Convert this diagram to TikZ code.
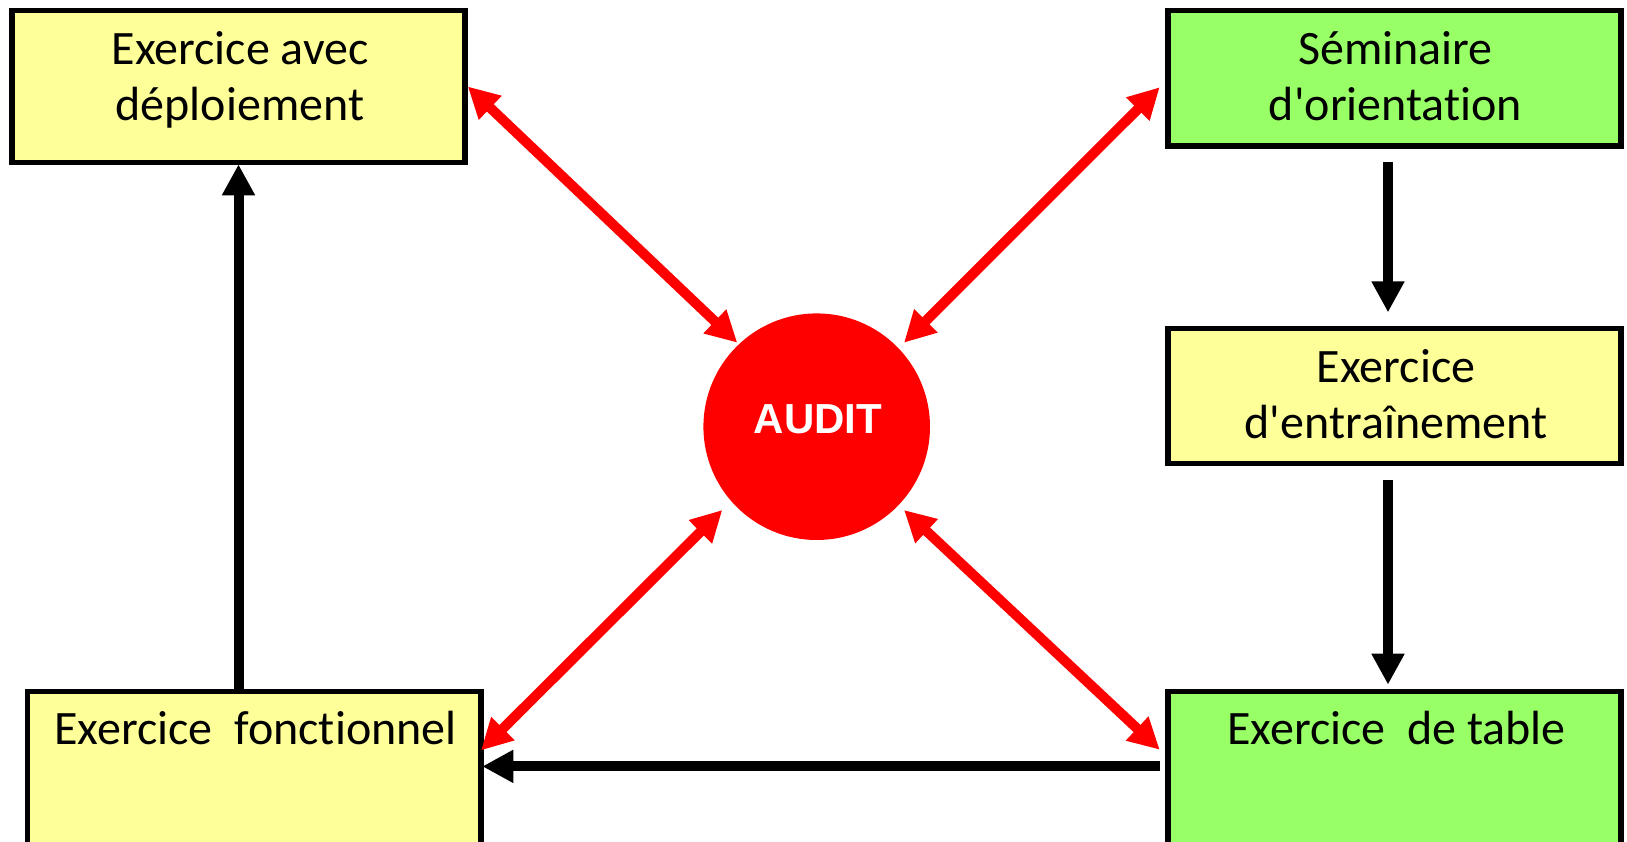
\documentclass[tikz,border=0pt]{standalone}
\usepackage{fontspec}
\setmainfont{Carlito}[Ligatures={TeXOff,CommonOff}]
\newfontfamily\auditfont{Liberation Sans}
\usetikzlibrary{arrows.meta,calc}
\definecolor{boxyellow}{HTML}{FFFF99}
\definecolor{boxgreen}{HTML}{99FF66}
\definecolor{auditred}{HTML}{FF0000}

\begin{document}
\begin{tikzpicture}[x=1pt,y=-1pt,
  stagebox/.style={draw=black, line width=5.6pt, rectangle, inner sep=0pt, minimum width=453pt},
  stagetext/.style={font=\fontsize{48}{56}\selectfont, align=center, anchor=base, inner sep=0pt},
  flow/.style={draw=black, line width=10pt, -{Triangle[length=31pt,width=31pt]}},
  link/.style={draw=auditred, line width=10pt,
    {Triangle[length=31pt,width=31pt]}-{Triangle[length=31pt,width=31pt]}},
]
\useasboundingbox (0,0) rectangle (1627,842);
\clip (0,0) rectangle (1627,842);

% stages (text anchored at the baseline of its last line)
\node[stagebox, fill=boxyellow, minimum height=152pt] (deploy) at (238.5,86.5) {};
\node[stagetext] (deployTxt) at (240,120.7) {Exercice avec\\déploiement};

\node[stagebox, fill=boxgreen, minimum height=135.5pt] (semi) at (1394.5,78.25) {};
\node[stagetext] (semiTxt) at (1395.5,120.7) {Séminaire\\d'orientation};

\node[stagebox, fill=boxyellow, minimum height=135pt] (train) at (1394.5,396) {};
\node[stagetext] (trainTxt) at (1396,438.3) {Exercice\\d'entraînement};

\node[stagebox, fill=boxyellow, minimum width=453.5pt, minimum height=208.5pt] (fonc) at (254.25,795.75) {};
\node[stagetext] (foncTxt) at (255.5,744) {Exercice\ \ fonctionnel};

\node[stagebox, fill=boxgreen, minimum height=208.5pt] (table) at (1394.5,795.75) {};
\node[stagetext] (tableTxt) at (1396.5,744) {Exercice\ \ de table};

% audit hub
\node[circle, fill=auditred, minimum size=226.6pt, inner sep=0pt] (audit) at (816.7,426.7) {};
\node[font=\auditfont\bfseries\fontsize{42}{50}\selectfont, text=white, anchor=base, inner sep=0pt]
  (auditTxt) at (818,433.3) {AUDIT};

% sequence of exercises
\draw[flow] ($(semi.south)+(-6.5,13)$) -- ($(train.north)+(-6.5,-13.3)$);
\draw[flow] ($(train.south)+(-6.5,14)$) -- ($(table.north)+(-6.5,-4)$);
\draw[flow] ($(table.north west)+(-4.8,77.7)$) -- ($(fonc.north east)+(-1.5,77.7)$);
\draw[flow] (deploy.south |- fonc.north) -- ($(deploy.south)+(0,-1)$);

% audit links
\draw[link] (deploy.east) -- ($(audit.center)+(-79.4,-84)$);
\draw[link] ($(semi.west)+(-5.5,9)$) -- ($(audit.center)+(87.3,-84)$);
\draw[link] ($(audit.center)+(-94.4,83.3)$) -- ($(fonc.north east)+(-2.8,61.7)$);
\draw[link] ($(audit.center)+(87.3,83.3)$) -- ($(table.north west)+(-5.5,61)$);
\end{tikzpicture}
\end{document}
